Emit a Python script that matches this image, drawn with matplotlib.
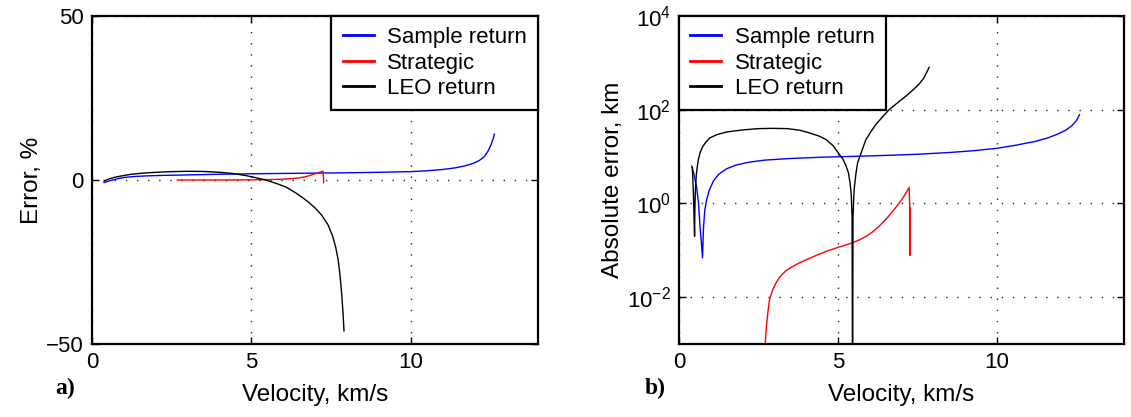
import matplotlib
matplotlib.use("Agg")
import matplotlib.pyplot as plt
from matplotlib.ticker import NullLocator

plt.rcParams['font.family'] = ['Liberation Sans', 'DejaVu Sans']
plt.rcParams['mathtext.fontset'] = 'custom'
plt.rcParams['mathtext.rm'] = 'Liberation Sans'
plt.rcParams['mathtext.it'] = 'Liberation Sans:italic'
plt.rcParams['mathtext.bf'] = 'Liberation Sans:bold'

series_names = ["Sample return", "Strategic", "LEO return"]
series_colors = ["#0000ff", "#ff0000", "#000000"]

# ---- panel a) relative error, % ----
a_sample_v = [0.38, 0.5, 0.65, 0.8, 1.0, 1.3, 1.7, 2.2, 3.0, 4.0, 5.0, 6.0, 7.0, 8.0, 9.0,
              10.0, 10.5, 11.0, 11.4, 11.7, 11.95, 12.15, 12.3, 12.42, 12.52, 12.6, 12.63]
a_sample_e = [-0.8, -0.4, 0.0, 0.4, 0.75, 1.05, 1.25, 1.4, 1.55, 1.75, 1.9, 2.0, 2.1, 2.2, 2.35,
              2.55, 2.8, 3.2, 3.7, 4.3, 5.0, 5.9, 7.0, 8.6, 10.6, 12.8, 14.0]

a_strat_v = [2.68, 3.5, 4.5, 5.0, 5.5, 5.86, 6.1, 6.3, 6.5, 6.7, 6.85, 6.95, 7.05, 7.15,
             7.25, 7.265, 7.27]
a_strat_e = [0.0, 0.0, 0.02, 0.05, 0.12, 0.2, 0.3, 0.45, 0.65, 1.0, 1.4, 1.75, 2.05, 2.35,
             2.7, 0.8, -0.8]

a_leo_v = [0.38, 0.5, 0.7, 0.9, 1.2, 1.6, 2.0, 2.5, 3.0, 3.5, 4.0, 4.4, 4.8, 5.1, 5.45,
           5.8, 6.1, 6.39, 6.6, 6.8, 7.0, 7.2, 7.4, 7.55, 7.65, 7.73, 7.79, 7.84, 7.88,
           7.91]
a_leo_e = [-0.3, 0.2, 0.8, 1.2, 1.7, 2.1, 2.35, 2.55, 2.65, 2.6, 2.35, 2.0, 1.4, 0.8, 0.0,
           -1.1, -2.2, -3.9, -5.3, -6.8, -8.5, -10.6, -13.5, -17.0, -20.5, -24.5, -29.5,
           -35.0, -40.5, -46.0]

# ---- panel b) absolute error, km ----
b_sample_v = [0.40, 0.47, 0.55, 0.61, 0.66, 0.70, 0.74, 0.77, 0.81, 0.87, 0.95, 1.08, 1.25,
              1.5, 1.8, 2.2, 2.7, 3.5, 4.5, 5.5, 6.5, 7.5, 8.5, 9.3, 10.0, 10.6, 11.2,
              11.6, 11.9, 12.15, 12.35, 12.5, 12.6]
b_sample_a = [6.3, 4.2, 2.3, 1.1, 0.33, 0.16, 0.069, 0.3, 0.7, 1.2, 1.9, 3.0, 4.2,
              5.5, 6.6, 7.6, 8.4, 9.1, 9.7, 10.1, 10.6, 11.2, 12.2, 13.4, 15.0, 17.5, 21.0,
              25.0, 30.0, 36.0, 45.0, 58.0, 78.0]

b_strat_v = [2.70, 2.72, 2.75, 2.8, 2.85, 2.95, 3.05, 3.17, 3.35, 3.55, 3.79, 4.2, 4.63,
             5.0, 5.46, 5.7, 5.9, 6.1, 6.3, 6.5, 6.7, 6.93, 7.1, 7.24,
             7.26, 7.262, 7.264, 7.266, 7.268, 7.27]
b_strat_a = [5e-4, 0.0012, 0.0024, 0.005, 0.009, 0.0145, 0.02, 0.027, 0.036, 0.044, 0.054,
             0.072, 0.095, 0.115, 0.145, 0.17, 0.2, 0.25, 0.33, 0.45, 0.65, 1.02, 1.5, 2.2,
             0.8, 0.08, 0.8, 0.08, 0.8, 0.08]

b_leo_v = [0.42, 0.455, 0.49, 0.50, 0.52, 0.55, 0.6, 0.66, 0.75, 0.85, 0.97, 1.2, 1.5, 2.0,
           2.5, 2.95, 3.4, 3.8, 4.1, 4.4, 4.63, 4.85, 5.05, 5.15, 5.25, 5.33, 5.38, 5.42,
           5.445, 5.46, 5.475, 5.5, 5.52, 5.57, 5.62, 5.73, 5.88, 6.05, 6.2, 6.4, 6.61,
           6.9, 7.14, 7.35, 7.55, 7.7, 7.87]
b_leo_a = [5.8, 1.5, 0.2, 0.8, 2.2, 4.5, 8.0, 12.0, 16.5, 20.5, 25.0, 29.5, 33.5, 37.0,
           39.5, 40.0, 39.5, 36.5, 32.0, 27.5, 23.0, 17.0, 11.0, 9.0, 6.5, 4.5, 2.8, 1.5,
           0.5, 1e-4, 0.5, 1.5, 2.3, 4.5, 7.4, 12.0, 23.0, 35.0, 49.0, 70.0, 100.0,
           145.0, 195.0, 260.0, 350.0, 470.0, 800.0]

x_ticks = [0, 5, 10]

fig = plt.figure(figsize=(11.31, 4.17), dpi=100)
axA = fig.add_axes([92/1131, 1-344/417, 446/1131, 328/417])
axB = fig.add_axes([679/1131, 1-344/417, 445/1131, 328/417])

lw = 1.0
for ax in (axA, axB):
    for s in ax.spines.values():
        s.set_linewidth(1.6)
    ax.tick_params(direction='in', length=5, width=1.0, top=True, right=True,
                   labelsize=16, pad=6)
    ax.set_xlim(0, 14)
    ax.set_xticks(x_ticks)
    ax.grid(True, which='major', color='0.15', linestyle=(0, (1, 7)), linewidth=1.0)
    ax.set_axisbelow(True)

# panel a
axA.plot(a_sample_v, a_sample_e, color=series_colors[0], lw=lw, label=series_names[0])
axA.plot(a_strat_v, a_strat_e, color=series_colors[1], lw=lw, label=series_names[1])
axA.plot(a_leo_v, a_leo_e, color=series_colors[2], lw=lw, label=series_names[2])
axA.set_ylim(-50, 50)
axA.set_yticks([-50, 0, 50])
axA.set_xlabel("Velocity, km/s", fontsize=17.5, labelpad=8)
axA.set_ylabel("Error, %", fontsize=17.5, labelpad=2)

# panel b
axB.plot(b_sample_v, b_sample_a, color=series_colors[0], lw=lw, label=series_names[0])
axB.plot(b_strat_v, b_strat_a, color=series_colors[1], lw=lw, label=series_names[1])
axB.plot(b_leo_v, b_leo_a, color=series_colors[2], lw=lw, label=series_names[2])
axB.set_yscale('log')
axB.set_ylim(1e-3, 1e4)
axB.set_yticks([1e-2, 1e0, 1e2, 1e4])
axB.yaxis.set_minor_locator(NullLocator())
axB.set_xlabel("Velocity, km/s", fontsize=17.5, labelpad=8)
axB.set_ylabel("Absolute error, km", fontsize=17.5, labelpad=2)

for ax, loc in ((axA, 'upper right'), (axB, 'upper left')):
    leg = ax.legend(loc=loc, fontsize=16, frameon=True, fancybox=False,
                    borderaxespad=0.0, handlelength=1.4, handletextpad=0.6,
                    labelspacing=0.2, borderpad=0.5)
    fr = leg.get_frame()
    fr.set_edgecolor('black')
    fr.set_linewidth(1.6)
    fr.set_facecolor('white')
    fr.set_alpha(1.0)
    for h in leg.get_lines():
        h.set_linewidth(2.0)

fig.text(55/1131, 1-388/417, "a)", fontsize=17, fontweight='bold',
         family=['Liberation Serif', 'DejaVu Serif'], va='center', ha='left')
fig.text(645/1131, 1-388/417, "b)", fontsize=17, fontweight='bold',
         family=['Liberation Serif', 'DejaVu Serif'], va='center', ha='left')

fig.savefig("out.png", dpi=100)
